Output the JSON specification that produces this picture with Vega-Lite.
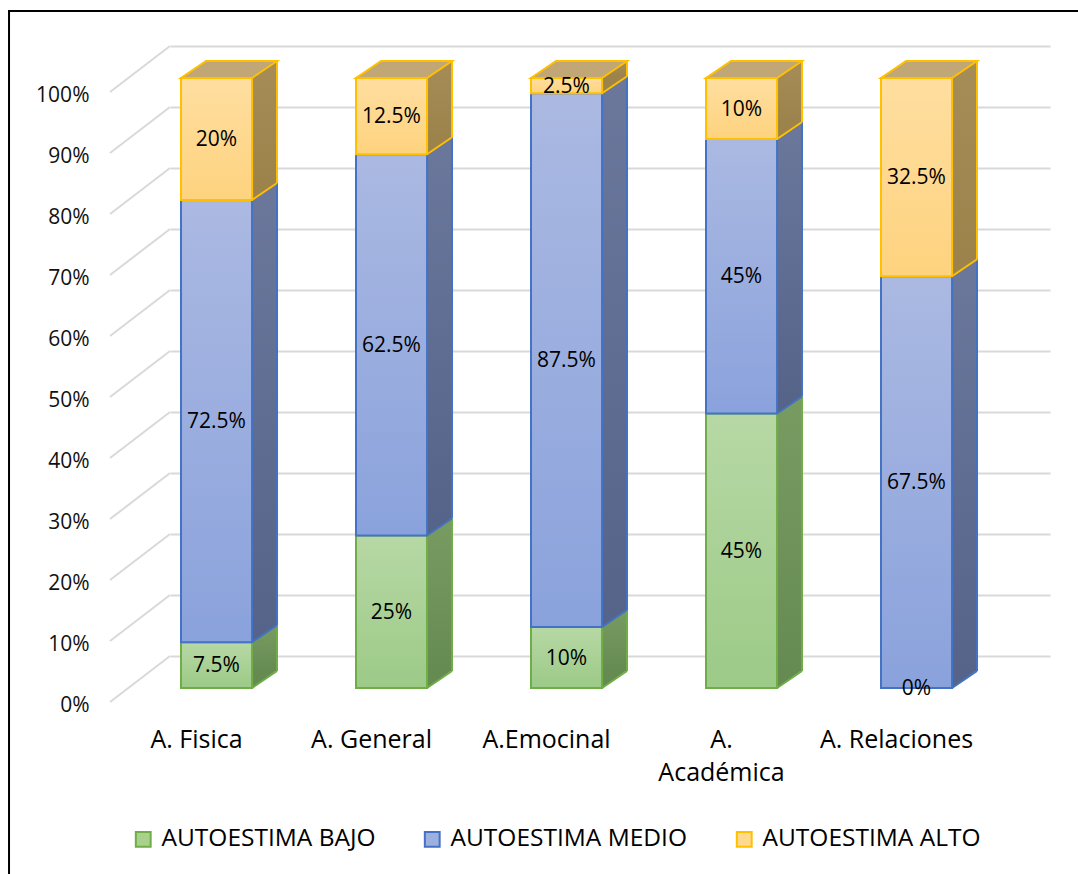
{
  "$schema": "https://vega.github.io/schema/vega-lite/v6.json",
  "width": 880,
  "height": 610,
  "autosize": {"type": "none"},
  "padding": {"left": 170, "top": 78, "right": 28, "bottom": 186},
  "background": "white",
  "config": {"view": {"stroke": null}, "font": "Open Sans"},
  "datasets": {
    "scores": [
      {"cat": "A. Fisica", "level": "AUTOESTIMA BAJO", "value": 0.075},
      {"cat": "A. Fisica", "level": "AUTOESTIMA MEDIO", "value": 0.725},
      {"cat": "A. Fisica", "level": "AUTOESTIMA ALTO", "value": 0.2},
      {"cat": "A. General", "level": "AUTOESTIMA BAJO", "value": 0.25},
      {"cat": "A. General", "level": "AUTOESTIMA MEDIO", "value": 0.625},
      {"cat": "A. General", "level": "AUTOESTIMA ALTO", "value": 0.125},
      {"cat": "A.Emocinal", "level": "AUTOESTIMA BAJO", "value": 0.1},
      {"cat": "A.Emocinal", "level": "AUTOESTIMA MEDIO", "value": 0.875},
      {"cat": "A.Emocinal", "level": "AUTOESTIMA ALTO", "value": 0.025},
      {"cat": "A. Académica", "level": "AUTOESTIMA BAJO", "value": 0.45},
      {"cat": "A. Académica", "level": "AUTOESTIMA MEDIO", "value": 0.45},
      {"cat": "A. Académica", "level": "AUTOESTIMA ALTO", "value": 0.1},
      {"cat": "A. Relaciones", "level": "AUTOESTIMA BAJO", "value": 0},
      {"cat": "A. Relaciones", "level": "AUTOESTIMA MEDIO", "value": 0.675},
      {"cat": "A. Relaciones", "level": "AUTOESTIMA ALTO", "value": 0.325}
    ],
    "ticks": [
      {"t": 0}, {"t": 0.1}, {"t": 0.2}, {"t": 0.3}, {"t": 0.4}, {"t": 0.5},
      {"t": 0.6}, {"t": 0.7}, {"t": 0.8}, {"t": 0.9}, {"t": 1}
    ],
    "frame": [{"part": "outline"}]
  },
  "data": {"name": "scores"},
  "transform": [
    {"calculate": "indexof(['AUTOESTIMA BAJO','AUTOESTIMA MEDIO','AUTOESTIMA ALTO'], datum.level)", "as": "ord"},
    {"stack": "value", "groupby": ["cat"], "sort": [{"field": "ord", "order": "ascending"}], "as": ["v0", "v1"]},
    {"calculate": "(datum.v0 + datum.v1) / 2", "as": "mid"}
  ],
  "encoding": {
    "x": {
      "field": "cat",
      "type": "nominal",
      "sort": null,
      "scale": {
        "type": "band",
        "domain": ["A. Fisica", "A. General", "A.Emocinal", "A. Académica", "A. Relaciones"],
        "paddingInner": 0.594,
        "paddingOuter": 0.3113,
        "align": 0.101
      },
      "axis": {
        "title": null,
        "domain": false,
        "ticks": false,
        "labelAngle": 0,
        "labelFont": "Open Sans",
        "labelFontSize": 25,
        "labelColor": "#000000",
        "labelPadding": 39,
        "labelOffset": -20,
        "labelLineHeight": 33,
        "labelOverlap": false,
        "labelLimit": 0,
        "labelExpr": "datum.label == 'A. Académica' ? ['A.', 'Académica'] : datum.label"
      }
    }
  },
  "layer": [
    {
      "data": {"name": "ticks"},
      "mark": {"type": "point", "shape": "M-106.5,14 L-46.5,-32", "size": 4, "filled": false, "stroke": "#d9d9d9", "strokeWidth": 2, "opacity": 1},
      "encoding": {
        "x": {"datum": "A. Fisica", "type": "nominal"},
        "y": {
          "field": "t",
          "type": "quantitative",
          "scale": {"domain": [0, 1], "nice": false, "zero": true},
          "axis": {
            "title": null,
            "values": [0, 0.1, 0.2, 0.3, 0.4, 0.5, 0.6, 0.7, 0.8, 0.9, 1],
            "format": "~%",
            "domain": false,
            "ticks": false,
            "grid": true,
            "gridColor": "#d9d9d9",
            "gridWidth": 2,
            "tickOffset": -32,
            "labelOffset": 49,
            "labelPadding": 81,
            "labelFont": "Open Sans",
            "labelFontSize": 21,
            "labelColor": "#111111"
          }
        }
      }
    },
    {
      "data": {"name": "frame"},
      "mark": {"type": "point", "shape": "M-207.5,186 L-207.5,-677 L861.5,-677", "size": 4, "filled": false, "stroke": "#000000", "strokeWidth": 2, "opacity": 1},
      "encoding": {
        "x": {"datum": "A. Fisica", "type": "nominal"},
        "y": {"datum": 0, "type": "quantitative"}
      }
    },
    {
      "mark": {"type": "bar", "width": 25, "xOffset": 48, "yOffset": -17, "y2Offset": -17, "strokeWidth": 0},
      "encoding": {
        "y": {"field": "v0", "type": "quantitative"},
        "y2": {"field": "v1"},
        "fill": {
          "condition": [
            {"test": "datum.level === 'AUTOESTIMA BAJO'", "value": {"gradient": "linear", "x1": 0, "y1": 0, "x2": 0, "y2": 1, "stops": [{"offset": 0, "color": "#789b62"}, {"offset": 1, "color": "#668b52"}]}},
            {"test": "datum.level === 'AUTOESTIMA MEDIO'", "value": {"gradient": "linear", "x1": 0, "y1": 0, "x2": 0, "y2": 1, "stops": [{"offset": 0, "color": "#6b789c"}, {"offset": 1, "color": "#56648a"}]}}
          ],
          "value": {"gradient": "linear", "x1": 0, "y1": 0, "x2": 0, "y2": 1, "stops": [{"offset": 0, "color": "#a68c57"}, {"offset": 1, "color": "#9c824b"}]}
        }
      }
    },
    {
      "transform": [{"filter": "datum.value > 0"}],
      "mark": {"type": "point", "shape": "M35.5,-18 L60.5,-18 L35.5,0.5 Z", "size": 4, "filled": true, "strokeWidth": 0, "opacity": 1},
      "encoding": {
        "y": {"field": "v0", "type": "quantitative"},
        "fill": {
          "condition": [
            {"test": "datum.level === 'AUTOESTIMA BAJO'", "value": "#668b52"},
            {"test": "datum.level === 'AUTOESTIMA MEDIO'", "value": "#56648a"}
          ],
          "value": "#9c824b"
        }
      }
    },
    {
      "transform": [{"filter": "datum.value > 0"}],
      "mark": {"type": "rule", "xOffset": 60.5, "yOffset": -17, "y2Offset": -17, "strokeWidth": 2},
      "encoding": {
        "y": {"field": "v0", "type": "quantitative"},
        "y2": {"field": "v1"},
        "stroke": {"field": "level", "type": "nominal"}
      }
    },
    {
      "transform": [{"filter": "datum.value > 0"}],
      "mark": {"type": "point", "shape": "M35.5,0 L60.5,-17", "size": 4, "filled": false, "strokeWidth": 2, "opacity": 1},
      "encoding": {
        "y": {"field": "v0", "type": "quantitative"},
        "stroke": {"field": "level", "type": "nominal"}
      }
    },
    {
      "transform": [{"filter": "datum.level === 'AUTOESTIMA ALTO'"}],
      "mark": {"type": "point", "shape": "M-35.5,0 L35.5,0 L60.5,-17 L-10.5,-17 Z", "size": 4, "filled": true, "fill": "#c1a775", "stroke": "#ffc000", "strokeWidth": 2, "strokeJoin": "miter", "opacity": 1},
      "encoding": {
        "y": {"field": "v1", "type": "quantitative"}
      }
    },
    {
      "transform": [{"filter": "datum.value > 0"}],
      "mark": {"type": "bar", "strokeWidth": 2, "strokeJoin": "miter"},
      "encoding": {
        "y": {"field": "v0", "type": "quantitative"},
        "y2": {"field": "v1"},
        "fill": {
          "field": "level",
          "type": "nominal",
          "scale": {"domain": ["AUTOESTIMA BAJO", "AUTOESTIMA MEDIO", "AUTOESTIMA ALTO"], "range": ["#a9d18e", "#9db0e0", "#fed98e"]},
          "legend": {
            "orient": "none",
            "legendX": -39,
            "legendY": 749,
            "direction": "horizontal",
            "title": null,
            "symbolType": "square",
            "symbolSize": 220,
            "symbolStrokeWidth": 2,
            "symbolOpacity": 1,
            "labelFont": "Open Sans",
            "labelFontSize": 24.5,
            "labelColor": "#000000",
            "labelOffset": 6,
            "columnPadding": 44,
            "labelLimit": 0
          }
        },
        "stroke": {
          "field": "level",
          "type": "nominal",
          "scale": {"domain": ["AUTOESTIMA BAJO", "AUTOESTIMA MEDIO", "AUTOESTIMA ALTO"], "range": ["#70ad47", "#4472c4", "#ffc000"]}
        }
      }
    },
    {
      "transform": [{"filter": "datum.value > 0"}],
      "mark": {"type": "bar", "strokeWidth": 2, "strokeJoin": "miter"},
      "encoding": {
        "y": {"field": "v0", "type": "quantitative"},
        "y2": {"field": "v1"},
        "fill": {
          "condition": [
            {"test": "datum.level === 'AUTOESTIMA BAJO'", "value": {"gradient": "linear", "x1": 0, "y1": 0, "x2": 0, "y2": 1, "stops": [{"offset": 0, "color": "#b7d8a5"}, {"offset": 1, "color": "#9cca87"}]}},
            {"test": "datum.level === 'AUTOESTIMA MEDIO'", "value": {"gradient": "linear", "x1": 0, "y1": 0, "x2": 0, "y2": 1, "stops": [{"offset": 0, "color": "#abb9e2"}, {"offset": 1, "color": "#8aa2dc"}]}}
          ],
          "value": {"gradient": "linear", "x1": 0, "y1": 0, "x2": 0, "y2": 1, "stops": [{"offset": 0, "color": "#fedea0"}, {"offset": 1, "color": "#fed37f"}]}
        },
        "stroke": {"field": "level", "type": "nominal"}
      }
    },
    {
      "mark": {"type": "text", "font": "Open Sans", "fontSize": 21, "color": "#000000", "baseline": "middle", "align": "center", "dy": 1},
      "encoding": {
        "y": {"field": "mid", "type": "quantitative"},
        "text": {"field": "value", "type": "quantitative", "format": ".1~%"}
      }
    }
  ]
}
